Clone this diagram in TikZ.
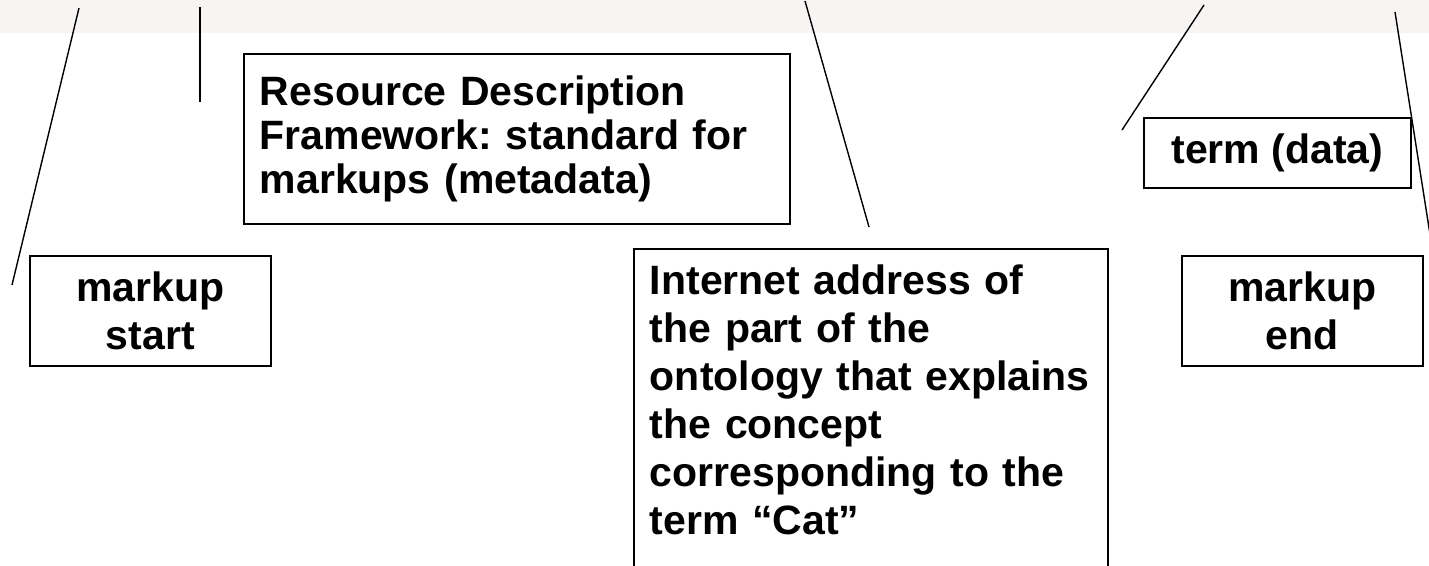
\documentclass[tikz,border=0pt]{standalone}
\usepackage{fontspec}
\setmainfont{Liberation Sans}
\definecolor{stripgray}{RGB}{247,244,244}
\frenchspacing

\begin{document}
\begin{tikzpicture}[x=1pt, y=-1pt,
    box/.style={draw, line width=1.8pt, inner sep=16pt,
      font=\bfseries\fontsize{41}{48}\selectfont},
    lead/.style={line width=1.4pt}]
    % Page frame and strip of the slide above
    \useasboundingbox (0,0) rectangle (1429,565);
    \clip (0,0) rectangle (1429,565);
    \fill[stripgray] (0,0) rectangle (1429,33);

    % Boxes
    \node[box, anchor=north west, minimum width=546pt, minimum height=170pt, text width=514pt, align=left,
      font=\bfseries\fontsize{41}{44}\selectfont] (rdf) at (243,53)
      {Resource Description\\Framework: standard for\\markups (metadata)};
    \node[box, anchor=north west, minimum width=241pt, minimum height=105pt, align=center] (start) at (29,255) {markup\\start};
    \node[box, anchor=north west, text width=442pt, align=left, text depth=340pt] (addr) at (633,248)
      {Internet address of\\the part of the\\ontology that explains\\the concept\\corresponding to the\\term “Cat”};
    \node[box, anchor=north west, minimum width=267pt, minimum height=70pt] (term) at (1143,117) {term (data)};
    \node[box, anchor=north west, minimum width=241pt, minimum height=105pt, align=center] (mend) at (1181,255) {markup\\end};

    % Leader lines
    \foreach \n/\x/\y/\u/\v in {a/79/8/12/285, b/200/7/200/102, c/805/1/869/227, d/1204/5/1122/130, e/1395/12/1432/247} {
      \coordinate (\n top) at (\x,\y);
      \coordinate (\n foot) at (\u,\v);
      \draw[lead] (\n top) -- (\n foot);
    }
\end{tikzpicture}
\end{document}
